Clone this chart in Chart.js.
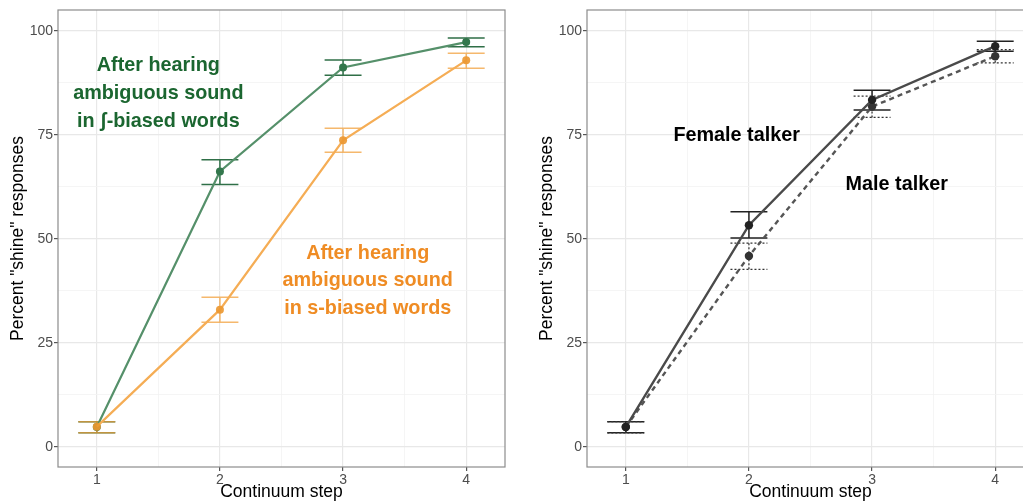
<!DOCTYPE html>
<html>
<head>
<meta charset="utf-8">
<script src="https://cdn.jsdelivr.net/npm/chart.js@4"></script>
<style>
    html, body { margin: 0; padding: 0; overflow: hidden; background: #fff; width: 1023px; height: 503px; }
    #left { position: absolute; left: 0; top: 0; }
    #right { position: absolute; left: 520px; top: 0; }
</style>
</head>
<body>
<canvas id="left" width="520" height="503"></canvas>
<canvas id="right" width="530" height="503"></canvas>
<script>
// Continuum steps and grid ticks (integers / quarters are the major lines)
const steps = [1, 2, 3, 4];
const xTicks = [1, 1.5, 2, 2.5, 3, 3.5, 4];
const yTicks = [0, 12.5, 25, 37.5, 50, 62.5, 75, 87.5, 100];

// Left panel: after hearing ambiguous sound in ʃ-biased / s-biased words
const shBiased = [4.8, 66.2, 91.2, 97.3];
const shBiasedLow = [3.4, 63.1, 89.3, 96.2];
const shBiasedHigh = [6.1, 69.0, 93.0, 98.3];
const sBiased = [4.9, 33.0, 73.7, 92.9];
const sBiasedLow = [3.4, 30.0, 70.8, 91.0];
const sBiasedHigh = [6.1, 36.0, 76.6, 94.6];

// Right panel: female vs male talker
const female = [4.8, 53.3, 83.4, 96.3];
const femaleLow = [3.4, 50.2, 81.0, 95.1];
const femaleHigh = [6.1, 56.5, 85.7, 97.5];
const male = [4.8, 45.9, 81.8, 93.9];
const maleLow = [3.4, 42.7, 79.2, 92.3];
const maleHigh = [6.1, 49.0, 84.3, 95.5];

const toPoints = values => steps.map((s, i) => ({ x: s, y: values[i] }));
const FONT = '"Liberation Sans", Arial, sans-serif';

// Error bars, drawn from each dataset's low/high arrays
const errorBars = {
    id: 'errorBars',
    beforeDatasetsDraw(chart) {
        const { ctx, scales: { x, y } } = chart;
        chart.data.datasets.forEach(ds => {
            if (!ds.low) return;
            ctx.save();
            ctx.strokeStyle = ds.errColor;
            ctx.lineWidth = ds.errWidth || 1.5;
            ctx.setLineDash(ds.errDash || []);
            steps.forEach((s, i) => {
                const xl = x.getPixelForValue(s - 0.15);
                const xr = x.getPixelForValue(s + 0.15);
                const xc = x.getPixelForValue(s);
                const yl = y.getPixelForValue(ds.low[i]);
                const yh = y.getPixelForValue(ds.high[i]);
                ctx.beginPath();
                ctx.moveTo(xl, yh); ctx.lineTo(xr, yh);
                ctx.moveTo(xl, yl); ctx.lineTo(xr, yl);
                ctx.moveTo(xc, yl); ctx.lineTo(xc, yh);
                ctx.stroke();
            });
            ctx.restore();
        });
    }
};

// Panel border (ggplot theme_bw)
const panelBorder = {
    id: 'panelBorder',
    afterDraw(chart) {
        const { ctx, chartArea: a } = chart;
        ctx.save();
        ctx.strokeStyle = '#8c8c8c';
        ctx.lineWidth = 1.2;
        ctx.strokeRect(a.left, a.top, a.right - a.left, a.bottom - a.top);
        ctx.restore();
    }
};

// Text notes placed in data coordinates
function notesPlugin(notes) {
    return {
        id: 'notes',
        afterDatasetsDraw(chart) {
            const { ctx, scales: { x, y } } = chart;
            ctx.save();
            ctx.font = 'bold 19.8px ' + FONT;
            ctx.textAlign = 'center';
            ctx.textBaseline = 'middle';
            notes.forEach(n => {
                ctx.fillStyle = n.color;
                const px = x.getPixelForValue(n.x);
                const py = y.getPixelForValue(n.y);
                n.lines.forEach((line, i) => ctx.fillText(line, px, py + i * 27.8));
            });
            ctx.restore();
        }
    };
}

function makeChart(id, datasets, notes, axisWidth, rightPad) {
    const isMajorX = v => Number.isInteger(v);
    const isMajorY = v => v % 25 === 0;
    return new Chart(document.getElementById(id), {
        type: 'line',
        data: { datasets: datasets },
        options: {
            responsive: false,
            animation: false,
            layout: { padding: { top: 10, right: rightPad, left: 0, bottom: 0 } },
            plugins: { legend: { display: false }, tooltip: { enabled: false } },
            scales: {
                x: {
                    type: 'linear',
                    min: 0.685,
                    max: 4.315,
                    afterBuildTicks: s => { s.ticks = xTicks.map(v => ({ value: v })); },
                    afterFit: s => { s.height = 36; },
                    border: { display: false },
                    grid: {
                        color: c => isMajorX(c.tick.value) ? '#e8e8e8' : '#f3f3f3',
                        lineWidth: c => isMajorX(c.tick.value) ? 1.2 : 0.8,
                        tickColor: c => isMajorX(c.tick.value) ? '#555' : 'rgba(0,0,0,0)',
                        tickLength: 4
                    },
                    ticks: {
                        autoSkip: false,
                        maxRotation: 0,
                        padding: 1,
                        color: '#4d4d4d',
                        font: { size: 14, family: FONT },
                        callback: v => isMajorX(v) ? v : ''
                    },
                    title: {
                        display: true,
                        text: 'Continuum step',
                        color: '#000',
                        padding: { top: 0, bottom: 0 },
                        font: { size: 17.5, family: FONT }
                    }
                },
                y: {
                    min: -4.8,
                    max: 105,
                    afterBuildTicks: s => { s.ticks = yTicks.map(v => ({ value: v })); },
                    afterFit: s => { s.width = axisWidth; },
                    border: { display: false },
                    grid: {
                        color: c => isMajorY(c.tick.value) ? '#e8e8e8' : '#f3f3f3',
                        lineWidth: c => isMajorY(c.tick.value) ? 1.2 : 0.8,
                        tickColor: c => isMajorY(c.tick.value) ? '#555' : 'rgba(0,0,0,0)',
                        tickLength: 4
                    },
                    ticks: {
                        padding: 1,
                        color: '#4d4d4d',
                        font: { size: 14, family: FONT },
                        callback: v => isMajorY(v) ? v : ''
                    },
                    title: {
                        display: true,
                        text: 'Percent "shine" responses',
                        color: '#000',
                        padding: { top: axisWidth - 50, bottom: 0 },
                        font: { size: 17.5, family: FONT }
                    }
                }
            }
        },
        plugins: [errorBars, panelBorder, notesPlugin(notes)]
    });
}

makeChart('left', [
    {
        data: toPoints(shBiased), low: shBiasedLow, high: shBiasedHigh, order: 1,
        borderColor: '#55906a', borderWidth: 2.2, errColor: '#2f6f47',
        pointRadius: 4, pointBackgroundColor: '#33774c', pointBorderWidth: 0
    },
    {
        data: toPoints(sBiased), low: sBiasedLow, high: sBiasedHigh, order: 0,
        borderColor: '#f5ad55', borderWidth: 2.2, errColor: 'rgba(242,160,60,0.75)',
        pointRadius: 4, pointBackgroundColor: 'rgba(236,152,50,0.92)', pointBorderWidth: 0
    }
], [
    { x: 1.5, y: 91.6, color: '#1b6630', lines: ['After hearing', 'ambiguous sound', 'in ʃ-biased words'] },
    { x: 3.2, y: 46.6, color: '#ef8c24', lines: ['After hearing', 'ambiguous sound', 'in s-biased words'] }
], 58, 15);

makeChart('right', [
    {
        data: toPoints(female), low: femaleLow, high: femaleHigh,
        borderColor: '#4a4a4a', borderWidth: 2.4, errColor: '#222',
        pointRadius: 4.2, pointBackgroundColor: '#222', pointBorderWidth: 0
    },
    {
        data: toPoints(male), low: maleLow, high: maleHigh,
        borderColor: '#555', borderWidth: 2.4, borderDash: [5, 4],
        errColor: '#333', errDash: [2, 2], errWidth: 1.2,
        pointRadius: 4.2, pointBackgroundColor: '#333', pointBorderWidth: 0
    }
], [
    { x: 1.9, y: 74.8, color: '#000', lines: ['Female talker'] },
    { x: 3.2, y: 63.0, color: '#000', lines: ['Male talker'] }
], 67, 16);
</script>
</body>
</html>
